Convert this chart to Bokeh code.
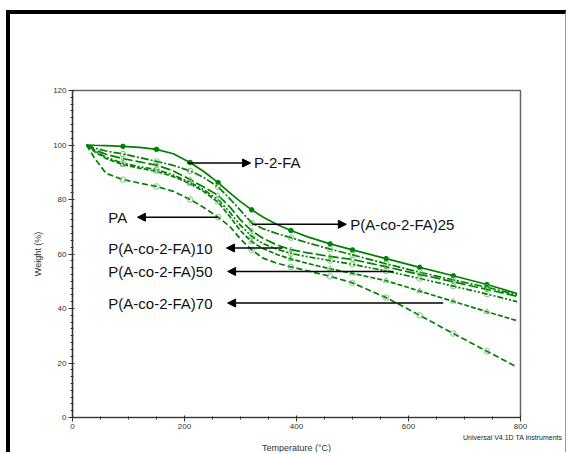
from bokeh.plotting import figure
from bokeh.models import Arrow, NormalHead, Label, SingleIntervalTicker, Title
from bokeh.embed import file_html
from bokeh.resources import INLINE

# ---- data (temperature in °C, weight in %) ----
temp = [25, 40, 60, 90, 120, 150, 180, 210, 235, 260, 280, 300, 320, 340, 365, 390,
        420, 460, 500, 560, 620, 680, 740, 794]

w_p2fa = [100, 99.9, 99.8, 99.5, 99.1, 98.4, 96.8, 93.6, 90.2, 86.2, 82.6, 79.2, 76.2, 73.6,
          70.8, 68.6, 66.3, 63.7, 61.5, 58.3, 55.1, 52.0, 48.8, 45.5]
w_co25 = [100, 98.8, 97.8, 96.7, 95.4, 94.0, 92.5, 90.5, 88.0, 84.6, 80.5, 76.0, 71.4, 69.3,
          67.5, 66.0, 64.1, 61.8, 59.7, 56.4, 53.3, 50.5, 47.8, 45.0]
w_co10 = [100, 98.2, 96.6, 95.0, 93.8, 92.6, 90.5, 87.3, 84.5, 81.5, 77.5, 72.5, 68.5, 65.8,
          63.3, 61.6, 60.4, 59.1, 58.0, 55.3, 52.5, 49.8, 47.0, 44.5]
w_co50 = [100, 97.8, 95.5, 93.3, 92.0, 91.0, 89.0, 86.3, 83.5, 80.0, 75.5, 70.5, 66.5, 63.8,
          61.8, 60.2, 59.0, 57.6, 56.2, 53.8, 51.0, 48.2, 45.3, 42.5]
w_co70 = [100, 97.5, 95.0, 92.8, 91.5, 90.3, 88.4, 85.8, 82.8, 79.0, 74.0, 68.5, 64.5, 62.0,
          59.8, 58.2, 56.5, 54.6, 52.9, 50.2, 46.4, 42.6, 38.8, 35.5]
w_pa   = [100, 95.0, 89.6, 87.3, 86.0, 84.8, 83.0, 80.0, 77.0, 73.5, 70.3, 65.5, 61.5, 58.5,
          56.6, 55.3, 53.8, 51.8, 49.4, 44.0, 37.5, 30.8, 24.3, 18.5]

marker_idx = [3, 5, 7, 9, 12, 15, 17, 18, 19, 20, 21, 22]

series_names = ["P-2-FA", "P(A-co-2-FA)25", "P(A-co-2-FA)10", "P(A-co-2-FA)50", "P(A-co-2-FA)70", "PA"]
series_vals = [w_p2fa, w_co25, w_co10, w_co50, w_co70, w_pa]
series_dash = ["solid", "8 2 2 2", "10 3", "6 2 2 2 2 2", "5 2", "6 3"]
series_marker = ["circle", "circle", "diamond", "circle", "triangle", "circle"]

# annotation arrows
ann_labels = ["P-2-FA", "PA", "P(A-co-2-FA)25", "P(A-co-2-FA)10", "P(A-co-2-FA)50", "P(A-co-2-FA)70"]
ann_y      = [93.4, 73.5, 70.9, 62.2, 53.6, 42.0]
ann_tail_x = [205, 259, 321, 375, 573, 662]
ann_head_x = [318, 116, 489, 275, 277, 277]
ann_text_x = [324, 64, 496, 64, 64, 64]

x_ticks_interval = 200
y_ticks_interval = 20

GREEN = "#008000"
FONT = "Liberation Sans"

p = figure(width=560, height=442, x_range=(0, 800), y_range=(0, 120),
           output_backend="svg", toolbar_location=None,
           min_border_left=62, min_border_right=50, min_border_top=76, min_border_bottom=39)

p.styles = {"margin-left": "6px", "margin-top": "10px",
            "border-left": "4px solid black", "border-top": "4px solid black",
            "border-right": "1px solid #999999"}

p.xgrid.visible = False
p.ygrid.visible = False
p.outline_line_color = "#666666"
p.outline_line_width = 1.5
p.background_fill_color = "white"
p.border_fill_color = "white"

p.xaxis.ticker = SingleIntervalTicker(interval=x_ticks_interval, num_minor_ticks=4)
p.yaxis.ticker = SingleIntervalTicker(interval=y_ticks_interval, num_minor_ticks=8)

for ax in (p.xaxis, p.yaxis):
    ax.axis_line_color = "#333333"
    ax.axis_line_width = 1.2
    ax.major_tick_line_color = "#333333"
    ax.minor_tick_line_color = "#333333"
    ax.major_tick_out = 4
    ax.major_tick_in = 2
    ax.minor_tick_out = 2
    ax.minor_tick_in = 1
    ax.major_label_text_font = FONT
    ax.major_label_text_font_size = "8px"
    ax.major_label_text_color = "#333333"
    ax.major_label_standoff = 2
    ax.axis_label_text_font = FONT
    ax.axis_label_text_font_size = "9px"
    ax.axis_label_text_font_style = "normal"
    ax.axis_label_text_color = "#333333"

p.yaxis.axis_label = "Weight (%)"
p.yaxis.axis_label_standoff = 7

for name, vals, dash, mk in zip(series_names, series_vals, series_dash, series_marker):
    p.line(temp, vals, line_color=GREEN, line_width=1.7, line_dash=dash)
    mx = [temp[i] for i in marker_idx]
    my = [vals[i] for i in marker_idx]
    if name == "P-2-FA":
        p.scatter(mx, my, marker="circle", size=4.5, line_color=GREEN, fill_color=GREEN)
    else:
        p.scatter(mx, my, marker=mk, size=5.5, line_color="#5cb85c", fill_color=None,
                  line_width=1, line_alpha=0.8)

for lab, y, tx, hx, txt_x in zip(ann_labels, ann_y, ann_tail_x, ann_head_x, ann_text_x):
    p.add_layout(Arrow(end=NormalHead(size=8, fill_color="black", line_color="black"),
                       x_start=tx, y_start=y, x_end=hx, y_end=y,
                       line_color="black", line_width=1.4))
    p.add_layout(Label(x=txt_x, y=y, text=lab, text_font=FONT, text_font_size="15px",
                       text_color="#111111", text_baseline="middle", text_align="left"))

# rows below the x axis: instrument note (right) then the axis title (centered)
p.add_layout(Title(text="Universal V4.1D TA Instruments", align="right", offset=-42,
                   text_font=FONT, text_font_size="7px", text_font_style="normal",
                   text_color="#222222", standoff=0), "below")
p.add_layout(Title(text="Temperature (°C)", align="center",
                   text_font=FONT, text_font_size="9px", text_font_style="normal",
                   text_color="#333333", standoff=0), "below")

open("out.html", "w").write(file_html(p, INLINE))
